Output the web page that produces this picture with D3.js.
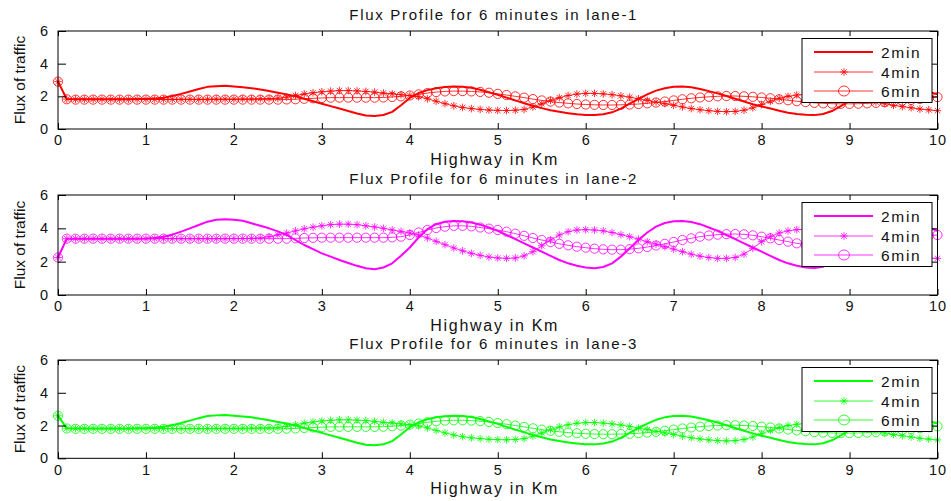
<!DOCTYPE html>
<html><head><meta charset="utf-8">
<script src="https://cdn.jsdelivr.net/npm/d3@7"></script>
<style>
body{margin:0;background:#fff;}
svg{display:block;font-family:"Liberation Sans",Arial,Helvetica,sans-serif;}
</style></head><body>
<svg id="chart" width="951" height="501"></svg>
<script>
const km = [0,0.1,0.2,0.3,0.4,0.5,0.6,0.7,0.8,0.9,1,1.1,1.2,1.3,1.4,1.5,1.6,1.7,1.8,1.9,2,2.1,2.2,2.3,2.4,2.5,2.6,2.7,2.8,2.9,3,3.1,3.2,3.3,3.4,3.5,3.6,3.7,3.8,3.9,4,4.1,4.2,4.3,4.4,4.5,4.6,4.7,4.8,4.9,5,5.1,5.2,5.3,5.4,5.5,5.6,5.7,5.8,5.9,6,6.1,6.2,6.3,6.4,6.5,6.6,6.7,6.8,6.9,7,7.1,7.2,7.3,7.4,7.5,7.6,7.7,7.8,7.9,8,8.1,8.2,8.3,8.4,8.5,8.6,8.7,8.8,8.9,9,9.1,9.2,9.3,9.4,9.5,9.6,9.7,9.8,9.9,10];

const seriesNames = ["2min","4min","6min"];
const titles = ["Flux Profile for 6 minutes in lane-1","Flux Profile for 6 minutes in lane-2","Flux Profile for 6 minutes in lane-3"];
const xLabel = "Highway in Km";
const yLabel = "Flux of traffic";
const xTicks = [0,1,2,3,4,5,6,7,8,9,10];
const yTicks = [0,2,4,6];

// lane 1
const lane1_2min = [2.9,1.83,1.82,1.82,1.82,1.82,1.82,1.82,1.82,1.83,1.84,1.86,1.92,2.02,2.15,2.3,2.45,2.58,2.62,2.65,2.6,2.55,2.5,2.42,2.32,2.22,2.12,2.0,1.85,1.7,1.55,1.4,1.25,1.1,0.95,0.83,0.8,0.86,1.05,1.45,1.9,2.2,2.38,2.5,2.57,2.6,2.58,2.52,2.4,2.25,2.1,1.92,1.75,1.58,1.42,1.28,1.15,1.05,0.97,0.9,0.86,0.85,0.9,1.02,1.25,1.55,1.85,2.12,2.35,2.5,2.58,2.6,2.55,2.45,2.32,2.18,2.02,1.85,1.68,1.52,1.38,1.25,1.12,1.0,0.92,0.87,0.85,0.92,1.1,1.4,1.72,2.0,2.25,2.42,2.52,2.58,2.58,2.52,2.42,2.28,2.12];
const lane1_4min = [2.9,1.83,1.82,1.82,1.82,1.82,1.82,1.82,1.82,1.82,1.82,1.82,1.82,1.82,1.82,1.82,1.82,1.82,1.83,1.83,1.83,1.84,1.84,1.85,1.86,1.88,1.95,2.05,2.15,2.22,2.28,2.32,2.35,2.35,2.33,2.3,2.26,2.2,2.15,2.1,2.05,1.98,1.85,1.7,1.55,1.42,1.32,1.25,1.2,1.16,1.14,1.13,1.15,1.2,1.35,1.55,1.75,1.92,2.05,2.14,2.18,2.18,2.15,2.1,2.03,1.95,1.85,1.75,1.65,1.55,1.45,1.35,1.25,1.18,1.12,1.08,1.06,1.08,1.15,1.3,1.5,1.7,1.88,2.0,2.08,2.13,2.15,2.15,2.12,2.05,1.95,1.85,1.75,1.65,1.55,1.45,1.37,1.3,1.22,1.17,1.12];
const lane1_6min = [2.9,1.82,1.8,1.8,1.8,1.8,1.8,1.8,1.8,1.8,1.8,1.8,1.8,1.8,1.8,1.8,1.8,1.8,1.8,1.8,1.8,1.8,1.8,1.8,1.8,1.8,1.81,1.82,1.85,1.88,1.9,1.92,1.92,1.92,1.92,1.92,1.92,1.93,1.96,2.0,2.05,2.12,2.2,2.26,2.3,2.32,2.32,2.3,2.27,2.22,2.15,2.08,2.0,1.92,1.83,1.75,1.68,1.62,1.57,1.53,1.5,1.48,1.47,1.47,1.48,1.5,1.53,1.57,1.62,1.68,1.75,1.82,1.88,1.93,1.97,2.0,2.02,2.02,2.0,1.97,1.93,1.88,1.82,1.76,1.7,1.65,1.6,1.57,1.55,1.54,1.54,1.55,1.57,1.6,1.64,1.68,1.73,1.78,1.84,1.9,1.95];

// lane 2
const lane2_2min = [2.25,3.38,3.38,3.38,3.38,3.38,3.38,3.38,3.38,3.38,3.39,3.42,3.5,3.62,3.8,4.0,4.2,4.4,4.52,4.54,4.52,4.45,4.3,4.15,4.0,3.82,3.6,3.3,3.0,2.75,2.5,2.3,2.1,1.92,1.75,1.6,1.55,1.65,1.9,2.35,2.85,3.45,3.95,4.25,4.4,4.44,4.42,4.35,4.22,4.05,3.85,3.6,3.35,3.1,2.85,2.6,2.35,2.1,1.9,1.75,1.65,1.6,1.68,1.9,2.3,2.8,3.3,3.75,4.1,4.32,4.42,4.44,4.38,4.25,4.05,3.85,3.6,3.35,3.1,2.85,2.6,2.35,2.1,1.9,1.75,1.65,1.62,1.7,1.95,2.4,2.9,3.4,3.85,4.15,4.35,4.42,4.42,4.35,4.22,4.05,3.85];
const lane2_4min = [2.25,3.38,3.38,3.38,3.38,3.38,3.38,3.38,3.38,3.38,3.38,3.38,3.38,3.38,3.38,3.38,3.38,3.38,3.38,3.38,3.39,3.39,3.4,3.42,3.5,3.6,3.72,3.85,3.97,4.07,4.15,4.22,4.25,4.25,4.22,4.15,4.08,4.0,3.9,3.82,3.72,3.6,3.42,3.22,3.02,2.82,2.65,2.5,2.38,2.28,2.22,2.2,2.22,2.35,2.6,2.95,3.3,3.6,3.8,3.9,3.92,3.9,3.85,3.75,3.62,3.5,3.35,3.2,3.05,2.9,2.75,2.6,2.45,2.33,2.25,2.2,2.2,2.25,2.45,2.8,3.2,3.5,3.72,3.85,3.92,3.95,3.95,3.9,3.8,3.65,3.5,3.32,3.15,2.98,2.8,2.65,2.5,2.38,2.28,2.22,2.2];
const lane2_6min = [2.25,3.38,3.38,3.38,3.38,3.38,3.38,3.38,3.38,3.38,3.38,3.38,3.38,3.38,3.38,3.38,3.38,3.38,3.38,3.38,3.38,3.38,3.38,3.38,3.38,3.38,3.38,3.4,3.42,3.43,3.44,3.44,3.44,3.44,3.44,3.44,3.44,3.44,3.46,3.5,3.6,3.75,3.9,4.02,4.1,4.15,4.15,4.12,4.05,3.98,3.9,3.8,3.68,3.55,3.42,3.3,3.18,3.07,2.98,2.9,2.84,2.78,2.74,2.72,2.72,2.75,2.8,2.88,2.97,3.07,3.18,3.3,3.4,3.5,3.57,3.62,3.65,3.66,3.64,3.58,3.5,3.4,3.3,3.2,3.1,3.02,2.96,2.92,2.9,2.9,2.92,2.97,3.03,3.1,3.18,3.27,3.35,3.43,3.5,3.56,3.6];

// lane 3
const lane3_2min = [2.6,1.83,1.82,1.82,1.82,1.82,1.82,1.82,1.82,1.83,1.84,1.86,1.92,2.02,2.15,2.3,2.45,2.58,2.62,2.65,2.6,2.55,2.5,2.42,2.32,2.22,2.12,2.0,1.85,1.7,1.55,1.4,1.25,1.1,0.95,0.83,0.8,0.86,1.05,1.45,1.9,2.2,2.38,2.5,2.57,2.6,2.58,2.52,2.4,2.25,2.1,1.92,1.75,1.58,1.42,1.28,1.15,1.05,0.97,0.9,0.86,0.85,0.9,1.02,1.25,1.55,1.85,2.12,2.35,2.5,2.58,2.6,2.55,2.45,2.32,2.18,2.02,1.85,1.68,1.52,1.38,1.25,1.12,1.0,0.92,0.87,0.85,0.92,1.1,1.4,1.72,2.0,2.25,2.42,2.52,2.58,2.58,2.52,2.42,2.28,2.12];
const lane3_4min = [2.6,1.83,1.82,1.82,1.82,1.82,1.82,1.82,1.82,1.82,1.82,1.82,1.82,1.82,1.82,1.82,1.82,1.82,1.83,1.83,1.83,1.84,1.84,1.85,1.86,1.88,1.95,2.05,2.15,2.22,2.28,2.32,2.35,2.35,2.33,2.3,2.26,2.2,2.15,2.1,2.05,1.98,1.85,1.7,1.55,1.42,1.32,1.25,1.2,1.16,1.14,1.13,1.15,1.2,1.35,1.55,1.75,1.92,2.05,2.14,2.18,2.18,2.15,2.1,2.03,1.95,1.85,1.75,1.65,1.55,1.45,1.35,1.25,1.18,1.12,1.08,1.06,1.08,1.15,1.3,1.5,1.7,1.88,2.0,2.08,2.13,2.15,2.15,2.12,2.05,1.95,1.85,1.75,1.65,1.55,1.45,1.37,1.3,1.22,1.17,1.12];
const lane3_6min = [2.6,1.82,1.8,1.8,1.8,1.8,1.8,1.8,1.8,1.8,1.8,1.8,1.8,1.8,1.8,1.8,1.8,1.8,1.8,1.8,1.8,1.8,1.8,1.8,1.8,1.8,1.81,1.82,1.85,1.88,1.9,1.92,1.92,1.92,1.92,1.92,1.92,1.93,1.96,2.0,2.05,2.12,2.2,2.26,2.3,2.32,2.32,2.3,2.27,2.22,2.15,2.08,2.0,1.92,1.83,1.75,1.68,1.62,1.57,1.53,1.5,1.48,1.47,1.47,1.48,1.5,1.53,1.57,1.62,1.68,1.75,1.82,1.88,1.93,1.97,2.0,2.02,2.02,2.0,1.97,1.93,1.88,1.82,1.76,1.7,1.65,1.6,1.57,1.55,1.54,1.54,1.55,1.57,1.6,1.64,1.68,1.73,1.78,1.84,1.9,1.95];

const lanes = [
  {title: titles[0], color: "#ff0000", series: [lane1_2min, lane1_4min, lane1_6min]},
  {title: titles[1], color: "#ff00ff", series: [lane2_2min, lane2_4min, lane2_6min]},
  {title: titles[2], color: "#00ff00", series: [lane3_2min, lane3_4min, lane3_6min]}
];

const boxes = [{top: 31, bottom: 129}, {top: 195, bottom: 295}, {top: 360, bottom: 458.3}];
const LEFT = 58, RIGHT = 937.5;
const svg = d3.select("#chart");
const x = d3.scaleLinear().domain([0, 10]).range([LEFT, RIGHT]);
const LS = "1.7px";

function asteriskPath(r) {
  const d = r * 0.72;
  return `M${-r},0H${r}M0,${-r}V${r}M${-d},${-d}L${d},${d}M${-d},${d}L${d},${-d}`;
}

lanes.forEach((lane, i) => {
  const b = boxes[i];
  const y = d3.scaleLinear().domain([0, 6]).range([b.bottom, b.top]);
  const g = svg.append("g");

  g.append("rect").attr("x", LEFT).attr("y", b.top).attr("width", RIGHT - LEFT).attr("height", b.bottom - b.top)
    .attr("fill", "#fff").attr("stroke", "none");

  const line = d3.line().x((d, j) => x(km[j])).y(d => y(d));
  lane.series.forEach((vals, s) => {
    g.append("path").datum(vals).attr("d", line).attr("fill", "none")
      .attr("stroke", lane.color).attr("stroke-width", s === 0 ? 2 : 0.8)
      .attr("stroke-linejoin", "round");
    if (s === 1) {
      g.append("g").selectAll("path").data(vals).join("path")
        .attr("transform", (d, j) => `translate(${x(km[j])},${y(d)})`)
        .attr("d", asteriskPath(3.8)).attr("fill", "none").attr("stroke", lane.color).attr("stroke-width", 0.8);
    } else if (s === 2) {
      g.append("g").selectAll("circle").data(vals).join("circle")
        .attr("cx", (d, j) => x(km[j])).attr("cy", d => y(d)).attr("r", 4.6)
        .attr("fill", "none").attr("stroke", lane.color).attr("stroke-width", 0.8);
    }
  });

  const axB = g.append("g").attr("transform", `translate(0,${b.bottom})`)
    .call(d3.axisBottom(x).tickValues(xTicks).tickSizeInner(-6).tickSizeOuter(0).tickPadding(6).tickFormat(d3.format("d")));
  const axT = g.append("g").attr("transform", `translate(0,${b.top})`)
    .call(d3.axisTop(x).tickValues(xTicks).tickSizeInner(-5).tickSizeOuter(0).tickFormat(""));
  const axL = g.append("g").attr("transform", `translate(${LEFT},0)`)
    .call(d3.axisLeft(y).tickValues(yTicks).tickSizeInner(-8).tickSizeOuter(0).tickPadding(9).tickFormat(d3.format("d")));
  const axR = g.append("g").attr("transform", `translate(${RIGHT},0)`)
    .call(d3.axisRight(y).tickValues(yTicks).tickSizeInner(-8).tickSizeOuter(0).tickFormat(""));
  [axB, axT, axL, axR].forEach(a => {
    a.select(".domain").remove();
    a.selectAll("line").attr("stroke", "#000").attr("stroke-width", 1);
    a.selectAll("text").attr("fill", "#111").style("font-size", "14.5px").style("letter-spacing", "1px")
      .attr("font-family", null);
  });
  g.append("rect").attr("x", LEFT).attr("y", b.top).attr("width", RIGHT - LEFT).attr("height", b.bottom - b.top)
    .attr("fill", "none").attr("stroke", "#000").attr("stroke-width", 1);

  g.append("text").attr("x", (LEFT + RIGHT) / 2 - 4).attr("y", b.top - 11).attr("text-anchor", "middle")
    .style("font-size", "15px").style("letter-spacing", LS).attr("fill", "#111").text(lane.title);
  g.append("text").attr("x", (LEFT + RIGHT) / 2 - 3).attr("y", b.bottom + 36).attr("text-anchor", "middle")
    .style("font-size", "16px").style("letter-spacing", LS).attr("fill", "#111").text(xLabel);
  g.append("text").attr("transform", `translate(24.5,${(b.top + b.bottom) / 2}) rotate(-90)`).attr("text-anchor", "middle")
    .style("font-size", "15.5px").attr("fill", "#111").text(yLabel);

  const lx = 802, ly = b.top + 7.5, lw = 130, lh = 64;
  const lg = g.append("g").attr("transform", `translate(${lx},${ly})`);
  lg.append("rect").attr("width", lw).attr("height", lh).attr("fill", "#fff").attr("stroke", "#000").attr("stroke-width", 1);
  const rows = [13.5, 33.5, 52.5];
  seriesNames.forEach((nm, s) => {
    const ry = rows[s];
    lg.append("line").attr("x1", 12).attr("x2", 71).attr("y1", ry).attr("y2", ry)
      .attr("stroke", lane.color).attr("stroke-width", s === 0 ? 2 : 0.8);
    if (s === 1) lg.append("path").attr("transform", `translate(42,${ry})`).attr("d", asteriskPath(3.8))
      .attr("fill", "none").attr("stroke", lane.color).attr("stroke-width", 0.8);
    if (s === 2) lg.append("ellipse").attr("cx", 42).attr("cy", ry).attr("rx", 5.5).attr("ry", 5)
      .attr("fill", "none").attr("stroke", lane.color).attr("stroke-width", 0.8);
    lg.append("text").attr("x", 79).attr("y", ry + 5.5).style("font-size", "15.5px").style("letter-spacing", LS)
      .attr("fill", "#111").text(nm);
  });
});
</script>
</body></html>
